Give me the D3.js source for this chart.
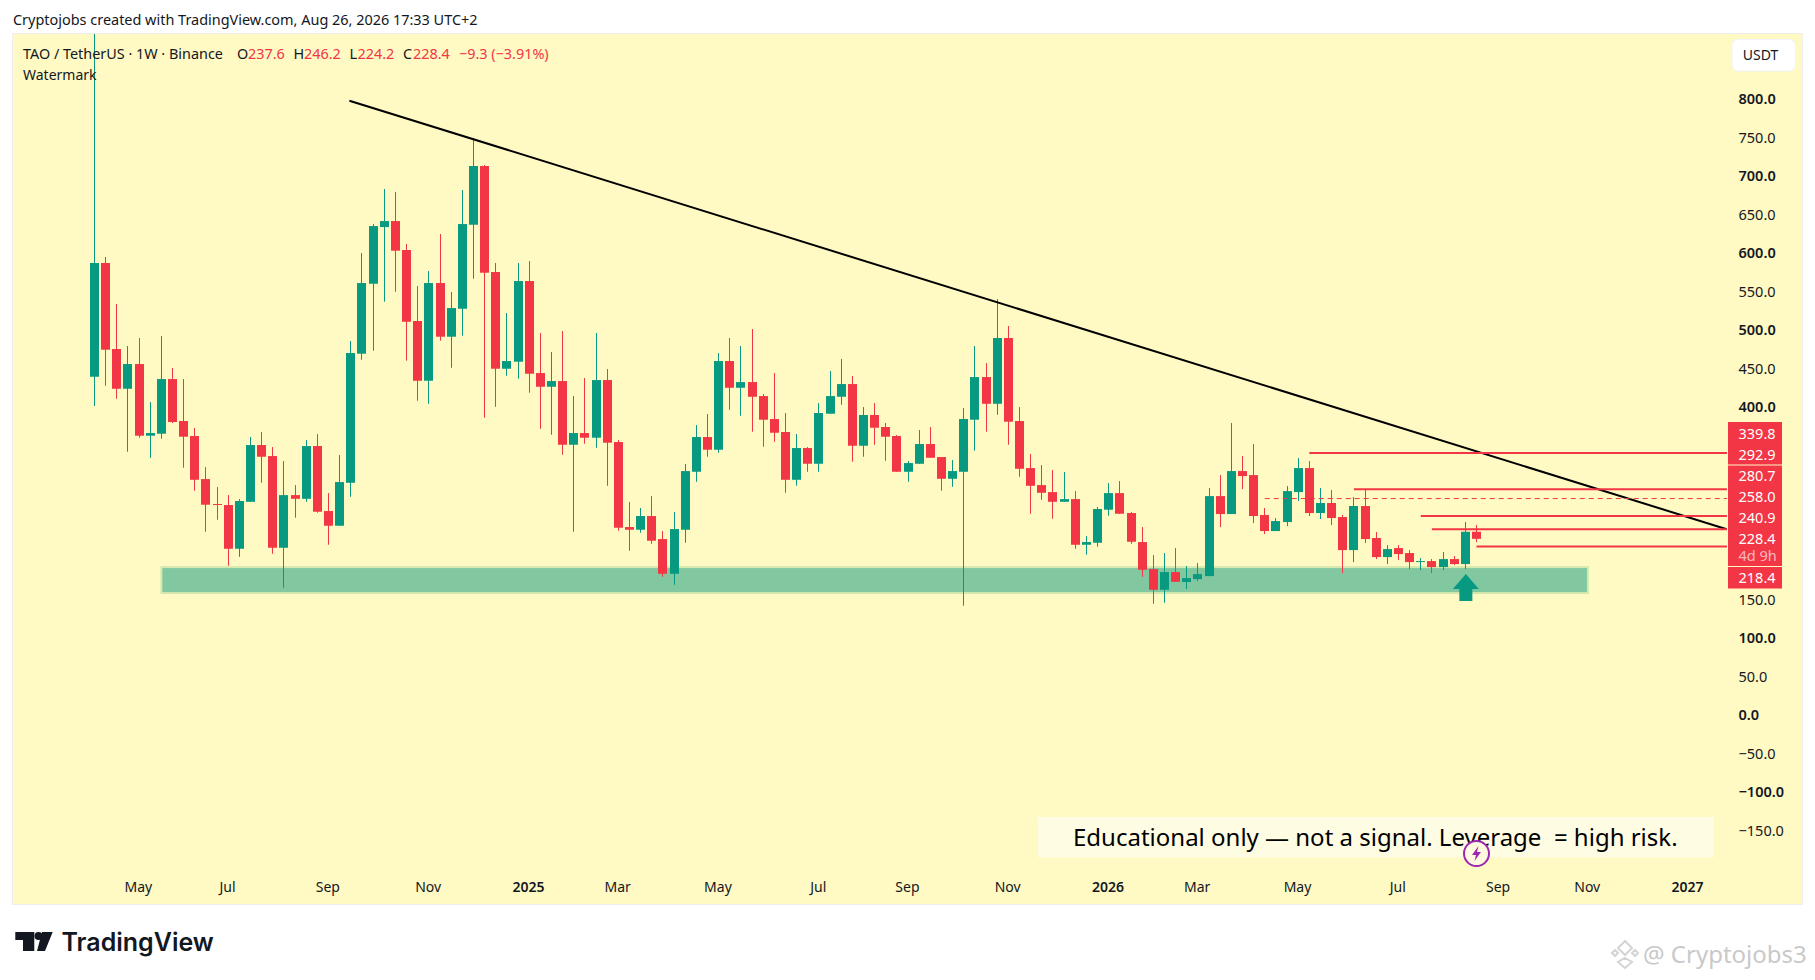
<!DOCTYPE html>
<html>
<head>
<meta charset="utf-8">
<title>TAO / TetherUS</title>
<script src="https://cdn.jsdelivr.net/npm/d3@7/dist/d3.min.js"></script>
<style>
    html, body { margin: 0; padding: 0; background: #fff; }
    svg { display: block; }
    text { font-family: "Noto Sans", sans-serif; fill: #131722; }
</style>
</head>
<body>
<div id="chart"></div>
<script>
// weekly bars, oldest first (first high runs off the top of the pane)
var opens = [438.9,586.6,474.9,423.3,455.4,362.3,364.9,435.9,381.4,361.9,306.0,273.6,272.3,215.5,276.5,350.2,335.9,216.8,285.2,280.4,348.9,264.5,245.4,301.2,468.8,
    559.7,633.3,641.1,603.5,511.3,433.7,560.6,490.9,527.2,636.3,712.6,574.9,449.3,458.4,563.2,443.7,425.9,433.3,350.6,365.8,359.7,434.6,354.1,243.7,240.2,
    258.0,228.1,183.0,240.2,315.5,360.6,344.1,459.3,424.6,432.0,413.8,384.0,367.1,305.1,346.3,325.9,390.9,412.9,429.4,349.3,389.2,373.6,361.9,315.5,325.9,
    351.5,334.6,306.4,315.5,383.1,438.5,403.8,489.2,381.4,320.3,298.2,289.1,276.5,280.0,220.7,223.3,266.2,287.8,261.9,224.2,189.1,162.2,185.2,172.3,176.1,
    180.0,283.9,260.6,316.4,311.2,259.3,238.5,250.2,289.1,320.3,261.9,274.9,256.7,213.8,271.0,229.4,204.7,216.4,209.9,198.2,199.5,191.7,202.1,195.6,237.6];
var highs = [890.0,594.4,533.3,478.8,489.2,406.0,491.8,450.2,435.9,372.3,321.6,295.6,285.2,280.0,360.6,367.1,347.6,329.4,298.2,356.7,364.5,287.8,337.2,485.3,599.6,
    637.2,682.7,678.8,611.3,556.7,576.2,624.3,548.9,681.4,749.0,713.9,586.6,521.6,586.6,589.2,495.7,471.0,498.3,413.8,437.2,495.7,448.9,356.7,276.2,268.4,
    283.9,238.5,263.2,325.5,376.2,390.5,469.7,489.2,478.8,500.9,416.4,443.7,391.8,364.5,347.6,404.7,446.3,461.9,439.8,399.5,404.7,378.8,363.2,329.4,369.7,
    373.6,334.6,330.7,398.2,478.8,456.7,539.8,504.8,399.5,338.5,324.2,317.7,315.1,290.4,232.0,269.7,300.8,303.4,263.2,243.7,207.3,209.9,216.4,193.0,196.9,
    294.3,311.2,378.8,335.9,351.5,268.4,255.4,296.9,333.3,329.4,294.3,291.7,259.3,282.6,293.0,237.2,220.3,220.3,213.8,203.4,202.1,211.2,206.0,250.2,246.2];
var lows = [400.9,427.2,410.3,341.5,359.7,333.7,358.4,378.8,320.7,290.8,237.6,253.2,193.4,205.1,276.5,301.2,209.0,164.8,255.8,276.5,262.3,220.7,245.4,283.0,461.0,
    472.7,536.3,549.3,459.7,407.7,403.8,485.7,450.6,492.2,566.2,385.7,399.9,440.2,436.3,418.1,371.4,363.6,337.6,237.6,351.9,346.7,297.3,238.9,212.9,236.3,
    222.0,179.1,168.7,223.3,302.5,335.0,340.2,396.0,388.2,367.5,348.0,354.5,288.2,297.3,315.5,315.5,390.9,402.5,328.5,335.0,350.6,329.8,315.5,302.5,325.9,
    333.7,290.8,296.0,141.5,342.8,367.5,389.5,350.6,309.0,261.0,279.1,254.5,276.5,215.5,207.7,218.1,258.4,261.0,222.0,179.1,144.1,145.4,172.6,163.2,173.5,
    180.0,243.7,260.6,293.0,248.9,234.6,238.5,245.0,277.5,258.0,254.1,246.3,183.9,198.2,222.9,202.1,195.6,200.8,189.1,187.8,183.9,187.8,194.3,189.1,224.2];
var closes = [586.6,474.0,423.3,455.4,362.3,365.8,435.9,380.1,361.0,305.1,272.7,272.7,215.5,277.5,350.2,335.0,216.8,285.2,280.4,348.9,263.6,245.4,302.1,469.7,560.6,
    634.6,641.1,602.6,510.3,433.7,560.6,490.9,528.1,637.2,712.6,574.0,449.3,459.3,563.2,442.8,425.9,433.3,350.6,365.8,359.7,434.6,353.2,242.8,240.2,258.0,
    225.9,183.0,241.1,316.4,360.6,344.1,459.3,424.6,432.0,412.9,383.1,366.2,305.1,346.3,325.9,391.8,413.8,429.4,349.3,389.2,372.7,361.0,315.5,326.8,351.5,
    333.7,306.4,316.4,384.0,438.5,403.8,489.2,380.5,319.4,297.3,288.2,276.5,280.0,220.7,224.2,267.1,287.8,261.0,224.6,188.2,162.2,185.2,172.6,177.4,182.6,
    283.9,260.6,316.4,309.9,258.0,238.5,251.5,290.4,320.3,261.9,274.9,255.4,213.8,271.0,228.1,204.7,215.1,208.6,198.2,199.5,191.7,202.1,195.6,237.6,228.4];

var priceTicks = [800,750,700,650,600,550,500,450,400,150,100,50,0,-50,-100,-150];
var timeTickBars = [4,12,21,30,39,47,56,65,73,82,91,99,108,117,126,134,143];
var timeTickLabels = ["May","Jul","Sep","Nov","2025","Mar","May","Jul","Sep","Nov","2026","Mar","May","Jul","Sep","Nov","2027"];

// drawings
var zoneBars = [6, 134];
var zonePrices = [191.7, 158.0];
var trendBars = [22.87, 146.45];
var trendPrices = [797.4, 240.9];
var levelPrices = [339.8, 292.9, 258.0, 240.9, 218.4];
var levelStartBars = [109, 113, 119, 120, 124];
var dashedPrice = 280.7;
var dashedStartBar = 105;
var signalBar = 123;

var stackLabels = ["339.8","292.9","280.7","258.0","240.9","228.4"];
var countdownLabel = "4d 9h";
var stopLabel = "218.4";

var bull = "#089981",
    bear = "#F23645",
    paneBg = "#FFF9C4",
    ink = "#131722";

var W = 1815, H = 980,
    paneL = 13, paneT = 34, paneR = 1802, paneB = 904,
    axisX = 1727;

var svg = d3.select("#chart").append("svg")
    .attr("width", W)
    .attr("height", H)
    .style("background", "#fff");

var x = d3.scaleLinear().domain([0, 124]).range([94.5, 1476.5]);
var y = d3.scaleLinear().domain([-150, 800]).range([830.2, 98.7]);

svg.append("defs").append("clipPath")
    .attr("id", "pane-clip")
    .append("rect")
    .attr("x", paneL).attr("y", paneT)
    .attr("width", paneR - paneL).attr("height", paneB - paneT);

// header line
svg.append("text")
    .attr("x", 13).attr("y", 25)
    .attr("font-size", 14.45)
    .text("Cryptojobs created with TradingView.com, Aug 26, 2026 17:33 UTC+2");

// pane
svg.append("rect")
    .attr("x", paneL - 0.5).attr("y", paneT - 0.5)
    .attr("width", paneR - paneL + 1).attr("height", paneB - paneT + 1)
    .attr("fill", paneBg)
    .attr("stroke", "#eeeeee");

// support zone
svg.append("rect")
    .attr("x", x(zoneBars[0]))
    .attr("y", y(zonePrices[0]))
    .attr("width", x(zoneBars[1]) - x(zoneBars[0]))
    .attr("height", y(zonePrices[1]) - y(zonePrices[0]))
    .attr("fill", "#81C8A0")
    .attr("stroke", "#D5E8AE")
    .attr("stroke-width", 2);

// candles
var bars = opens.map(function (o, i) {
    return { i: i, o: o, h: highs[i], l: lows[i], c: closes[i] };
});
var candles = svg.append("g").attr("clip-path", "url(#pane-clip)");

candles.selectAll("rect.wick")
    .data(bars)
    .enter()
    .append("rect")
    .attr("class", "wick")
    .attr("x", function (d) { return Math.floor(x(d.i)); })
    .attr("y", function (d) { return y(d.h); })
    .attr("width", 1)
    .attr("height", function (d) { return y(d.l) - y(d.h); })
    .attr("fill", function (d) { return d.c >= d.o ? bull : bear; });

candles.selectAll("rect.body")
    .data(bars)
    .enter()
    .append("rect")
    .attr("class", "body")
    .attr("x", function (d) { return Math.floor(x(d.i)) - 4; })
    .attr("y", function (d) { return y(Math.max(d.o, d.c)); })
    .attr("width", 9)
    .attr("height", function (d) { return Math.max(1, Math.abs(y(d.o) - y(d.c))); })
    .attr("fill", function (d) { return d.c >= d.o ? bull : bear; });

// trendline
svg.append("line")
    .attr("x1", x(trendBars[0])).attr("y1", y(trendPrices[0]))
    .attr("x2", x(trendBars[1])).attr("y2", y(trendPrices[1]))
    .attr("stroke", "#000")
    .attr("stroke-width", 2);

// horizontal levels
svg.selectAll("line.level")
    .data(levelPrices)
    .enter()
    .append("line")
    .attr("class", "level")
    .attr("x1", function (d, i) { return x(levelStartBars[i]); })
    .attr("x2", axisX)
    .attr("y1", function (d) { return y(d); })
    .attr("y2", function (d) { return y(d); })
    .attr("stroke", bear)
    .attr("stroke-width", 2);

svg.append("line")
    .attr("x1", x(dashedStartBar)).attr("x2", axisX)
    .attr("y1", y(dashedPrice)).attr("y2", y(dashedPrice))
    .attr("stroke", bear)
    .attr("stroke-dasharray", "5 4");

// arrow under the signal candle
var ax = x(signalBar) + 0.5;
svg.append("path")
    .attr("d", "M" + ax + ",574 L" + (ax + 13) + ",589 L" + (ax + 6.5) + ",589 L" + (ax + 6.5) + ",601 L" + (ax - 6.5) + ",601 L" + (ax - 6.5) + ",589 L" + (ax - 13) + ",589 Z")
    .attr("fill", bull);

// legend
var legendY = 59;
var legendParts = [
    ["TAO / TetherUS \u00b7 1W \u00b7 Binance", 23, ink],
    ["O", 237, ink], ["237.6", 248, bear],
    ["H", 293.5, ink], ["246.2", 304, bear],
    ["L", 349.5, ink], ["224.2", 357.5, bear],
    ["C", 403, ink], ["228.4", 413, bear],
    ["\u22129.3 (\u22123.91%)", 459, bear]
];
svg.selectAll("text.legend")
    .data(legendParts)
    .enter()
    .append("text")
    .attr("class", "legend")
    .attr("x", function (d) { return d[1]; })
    .attr("y", legendY)
    .attr("font-size", 14.4)
    .style("fill", function (d) { return d[2]; })
    .text(function (d) { return d[0]; });

svg.append("text")
    .attr("x", 23).attr("y", 79.5)
    .attr("font-size", 14)
    .text("Watermark");

// price axis
var priceAxis = svg.append("g")
    .attr("transform", "translate(1738.5,0.4)")
    .call(d3.axisRight(y)
        .tickValues(priceTicks)
        .tickSize(0)
        .tickPadding(0)
        .tickFormat(function (d) { return (d < 0 ? "\u2212" : "") + Math.abs(d).toFixed(1); }));
priceAxis.select(".domain").remove();
priceAxis.selectAll("text")
    .style("font-size", "14.5px")
    .style("font-weight", function (d) { return d % 100 === 0 ? 600 : 400; })
    .style("fill", ink);

// time axis
var timeAxis = svg.append("g")
    .attr("transform", "translate(-1.2,882)")
    .call(d3.axisBottom(x)
        .tickValues(timeTickBars)
        .tickSize(0)
        .tickPadding(0)
        .tickFormat(function (d, i) { return timeTickLabels[i]; }));
timeAxis.select(".domain").remove();
timeAxis.selectAll("text")
    .style("font-size", "14px")
    .style("font-weight", function (d, i) { return /^\d+$/.test(timeTickLabels[i]) ? 600 : 400; })
    .style("fill", ink);

// USDT button
svg.append("rect")
    .attr("x", 1732).attr("y", 39.5)
    .attr("width", 63.5).attr("height", 31.5)
    .attr("rx", 6)
    .attr("fill", "#fff")
    .attr("stroke", "#f0f3fa");
svg.append("text")
    .attr("x", 1760.5).attr("y", 60)
    .attr("text-anchor", "middle")
    .attr("font-size", 14)
    .text("USDT");

// red price labels
var tagBlocks = [[422, 464.5], [465.5, 566], [567, 588.5]];
svg.selectAll("rect.tag")
    .data(tagBlocks)
    .enter()
    .append("rect")
    .attr("class", "tag")
    .attr("x", 1728).attr("width", 54)
    .attr("y", function (d) { return d[0]; })
    .attr("height", function (d) { return d[1] - d[0]; })
    .attr("fill", bear);

svg.selectAll("text.tag-label")
    .data(stackLabels)
    .enter()
    .append("text")
    .attr("class", "tag-label")
    .attr("x", 1738.5)
    .attr("y", function (d, i) { return 438.5 + i * 21; })
    .attr("font-size", 14.5)
    .style("fill", "#fff")
    .text(function (d) { return d; });
svg.append("text")
    .attr("x", 1738.5).attr("y", 561)
    .attr("font-size", 14.5)
    .style("fill", "#fff").style("fill-opacity", 0.65)
    .text(countdownLabel);
svg.append("text")
    .attr("x", 1738.5).attr("y", 583)
    .attr("font-size", 14.5)
    .style("fill", "#fff")
    .text(stopLabel);

// note banner
svg.append("rect")
    .attr("x", 1038).attr("y", 817)
    .attr("width", 676).attr("height", 40.5)
    .attr("fill", "#fff")
    .attr("fill-opacity", 0.55);
svg.append("text")
    .attr("x", 1073).attr("y", 846)
    .attr("font-size", 24)
    .style("fill", "#000")
    .style("white-space", "pre")
    .text("Educational only \u2014 not a signal. Leverage  = high risk.");

// lightning marker
svg.append("circle")
    .attr("cx", 1476.5).attr("cy", 853.5).attr("r", 12.5)
    .attr("fill", "#FFF9E0")
    .attr("stroke", "#9C27B0")
    .attr("stroke-width", 2);
svg.append("path")
    .attr("d", "M1478.5,846 L1472,855 L1476,855 L1474.5,861 L1481,852 L1477,852 Z")
    .attr("fill", "#9C27B0");

// TradingView logo
svg.append("path")
    .attr("d", "M15.3,932 H34.3 V951 H23 V940 H15.3 Z M42,932 H52.7 L45,951 H37 Z")
    .attr("fill", ink);
svg.append("circle")
    .attr("cx", 38.5).attr("cy", 936).attr("r", 4)
    .attr("fill", ink);
svg.append("text")
    .attr("x", 61.5).attr("y", 951)
    .attr("font-size", 25)
    .attr("font-weight", 600)
    .style("font-family", "Inter, sans-serif")
    .text("TradingView");

// site watermark
svg.append("path")
    .attr("d", "M1625,941 L1632,948 L1625,955 L1618,948 Z M1615,950 L1618,953 L1615,956 L1612,953 Z M1635,950 L1638,953 L1635,956 L1632,953 Z M1625,958 L1632,962 L1625,968 L1618,962 Z")
    .attr("fill", "none")
    .attr("stroke", "#d4d4d4")
    .attr("stroke-width", 2);
svg.append("text")
    .attr("x", 1643).attr("y", 963)
    .attr("font-size", 24)
    .style("fill", "#c9c9c9")
    .text("@ Cryptojobs3");
</script>
</body>
</html>
